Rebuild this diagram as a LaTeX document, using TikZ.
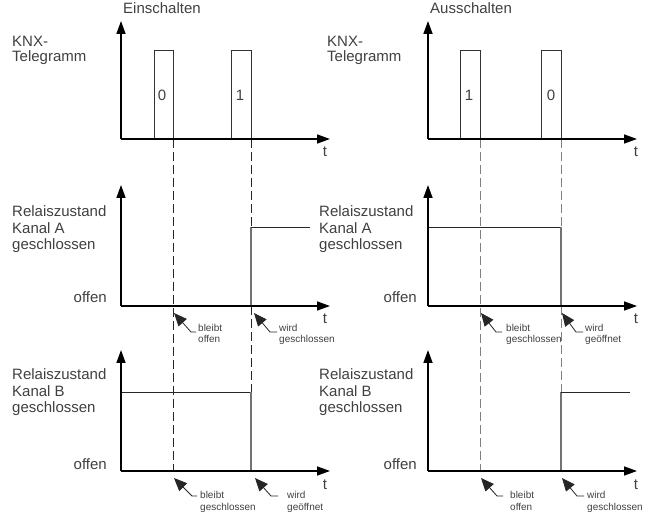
\documentclass[tikz,border=0pt]{standalone}
\usepackage{fontspec}
\setmainfont{Liberation Sans}
\usetikzlibrary{arrows.meta}
\definecolor{txt}{gray}{0.25}
\begin{document}
\begin{tikzpicture}[x=1pt,y=-1pt,
  axis/.style={line width=1.7pt, -{Triangle[length=13pt,width=9pt]}},
  lbl/.style={anchor=base west, inner sep=0pt, font=\fontsize{15}{16.5}\selectfont, text=txt},
  lblr/.style={lbl, anchor=base east},
  lblc/.style={lbl, anchor=base},
  small/.style={anchor=base west, inner sep=0pt, font=\fontsize{10}{12}\selectfont, text=txt},
  pulse/.style={line width=0.8pt, black!80},
  state/.style={line width=0.8pt, black!85},
  drop/.style={line width=1.2pt, black!55},
  dashA/.style={dash pattern=on 9pt off 4pt, line width=1pt, black!85},
  dashB/.style={dash pattern=on 9pt off 4pt, line width=1pt, black!50},
  marker/.style={line width=0.8pt, black!85, -{Triangle[length=13pt,width=11pt]}},
]
\useasboundingbox (0,0) rectangle (662,513);

% ---------- coordinates of axes ----------
\coordinate (LO1) at (121,139); \coordinate (LY1) at (121,21); \coordinate (LX1) at (330,139);
\coordinate (LO2) at (121,306); \coordinate (LY2) at (121,185); \coordinate (LX2) at (330,306);
\coordinate (LO3) at (121,471); \coordinate (LY3) at (121,350); \coordinate (LX3) at (330,471);
\coordinate (RO1) at (428,139); \coordinate (RY1) at (428,21); \coordinate (RX1) at (637,139);
\coordinate (RO2) at (428,306); \coordinate (RY2) at (428,185); \coordinate (RX2) at (637,306);
\coordinate (RO3) at (428,471); \coordinate (RY3) at (428,350); \coordinate (RX3) at (637,471);

% ---------- dashed guide lines ----------
\draw[dashA] (173,139) -- (173,471);
\draw[dashA] (251,139) -- (251,227);
\draw[dashA] (251,306) -- (251,392);
\draw[dashB] (480,139) -- (480,471);
\draw[dashB] (561,139) -- (561,227);
\draw[dashB] (561,306) -- (561,392);

% ---------- pulses ----------
\draw[pulse] (154,139) -- (154,50) -- (173,50) -- (173,139);
\draw[pulse] (231,139) -- (231,50) -- (251,50) -- (251,139);
\draw[pulse] (460,139) -- (460,50) -- (480,50) -- (480,139);
\draw[pulse] (541,139) -- (541,50) -- (561,50) -- (561,139);
\node[lblc] (p0L) at (162,101) {0};
\node[lblc] (p1L) at (240,101) {1};
\node[lblc] (p1R) at (469,101) {1};
\node[lblc] (p0R) at (551,101) {0};

% ---------- relay states ----------
\draw[drop] (251,306) -- (251,227);
\draw[state] (251,227) -- (310,227);
\draw[state] (428,227) -- (561,227);
\draw[drop] (561,227) -- (561,306);
\draw[state] (121,392) -- (251,392);
\draw[drop] (251,392) -- (251,471);
\draw[drop] (561,471) -- (561,392);
\draw[state] (561,392) -- (630,392);

% ---------- axes ----------
\foreach \s in {L,R}{
  \foreach \k in {1,2,3}{
    \draw[axis] (\s O\k) -- (\s Y\k);
    \draw[axis] (\s O\k) -- (\s X\k);
  }
}

% ---------- titles and axis labels ----------
\node[lbl] (ein) at (123,14) {Einschalten};
\node[lbl] (aus) at (430,14) {Ausschalten};

\node[lbl] (knxL1) at (12,47) {KNX-};
\node[lbl] (knxL2) at (12,62) {Telegramm};
\node[lbl] (knxR1) at (327,47) {KNX-};
\node[lbl] (knxR2) at (327,62) {Telegramm};

\node[lbl] (raL1) at (12,217) {Relaiszustand};
\node[lbl] (raL2) at (12,234) {Kanal A};
\node[lbl] (raL3) at (12,250) {geschlossen};
\node[lbl] (raR1) at (319,217) {Relaiszustand};
\node[lbl] (raR2) at (319,234) {Kanal A};
\node[lbl] (raR3) at (319,250) {geschlossen};

\node[lbl] (rbL1) at (12,379) {Relaiszustand};
\node[lbl] (rbL2) at (12,396) {Kanal B};
\node[lbl] (rbL3) at (12,413) {geschlossen};
\node[lbl] (rbR1) at (319,379) {Relaiszustand};
\node[lbl] (rbR2) at (319,396) {Kanal B};
\node[lbl] (rbR3) at (319,413) {geschlossen};

\node[lblr] (ofL2) at (107,303) {offen};
\node[lblr] (ofL3) at (107,469) {offen};
\node[lblr] (ofR2) at (417,303) {offen};
\node[lblr] (ofR3) at (417,469) {offen};

\node[lblc] (tL1) at (325,157) {t};
\node[lblc] (tL2) at (325,324) {t};
\node[lblc] (tL3) at (325,489) {t};
\node[lblc] (tR1) at (636,157) {t};
\node[lblc] (tR2) at (636,324) {t};
\node[lblc] (tR3) at (636,489) {t};

% ---------- annotations ----------
% middle left
\coordinate (a1t) at (174,313); \coordinate (a1c) at (191,332); \coordinate (a1e) at (196,332);
\draw[marker] (a1e) -- (a1c) -- (a1t);
\node[small] (a1x) at (198,331) {bleibt};
\node[small] (a1y) at (198,343) {offen};
\coordinate (a2t) at (254,313); \coordinate (a2c) at (270,332); \coordinate (a2e) at (277,332);
\draw[marker] (a2e) -- (a2c) -- (a2t);
\node[small] (a2x) at (279,331) {wird};
\node[small] (a2y) at (279,343) {geschlossen};
% middle right
\coordinate (a3t) at (481,313); \coordinate (a3c) at (496,332); \coordinate (a3e) at (502,332);
\draw[marker] (a3e) -- (a3c) -- (a3t);
\node[small] (a3x) at (506,331) {bleibt};
\node[small] (a3y) at (506,343) {geschlossen};
\coordinate (a4t) at (562,313); \coordinate (a4c) at (576,332); \coordinate (a4e) at (583,332);
\draw[marker] (a4e) -- (a4c) -- (a4t);
\node[small] (a4x) at (585,331) {wird};
\node[small] (a4y) at (585,343) {geöffnet};
% bottom left
\coordinate (b1t) at (174,478); \coordinate (b1c) at (192,496); \coordinate (b1e) at (197,496);
\draw[marker] (b1e) -- (b1c) -- (b1t);
\node[small] (b1x) at (200,498) {bleibt};
\node[small] (b1y) at (200,510) {geschlossen};
\coordinate (b2t) at (255,478); \coordinate (b2c) at (271,496); \coordinate (b2e) at (278,496);
\draw[marker] (b2e) -- (b2c) -- (b2t);
\node[small] (b2x) at (287,498) {wird};
\node[small] (b2y) at (287,510) {geöffnet};
% bottom right
\coordinate (b3t) at (481,478); \coordinate (b3c) at (497,496); \coordinate (b3e) at (503,496);
\draw[marker] (b3e) -- (b3c) -- (b3t);
\node[small] (b3x) at (510,498) {bleibt};
\node[small] (b3y) at (510,510) {offen};
\coordinate (b4t) at (562,478); \coordinate (b4c) at (577,496); \coordinate (b4e) at (584,496);
\draw[marker] (b4e) -- (b4c) -- (b4t);
\node[small] (b4x) at (587,498) {wird};
\node[small] (b4y) at (587,510) {geschlossen};
\end{tikzpicture}
\end{document}
